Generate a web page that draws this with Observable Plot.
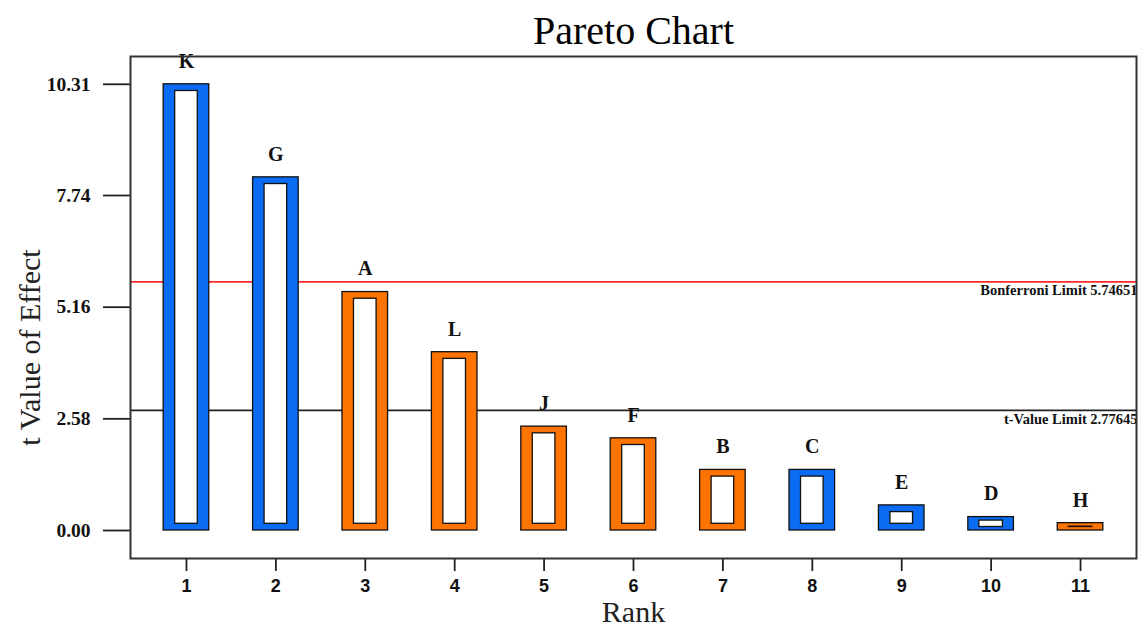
<!DOCTYPE html>
<html><head><meta charset="utf-8">
<script src="https://cdn.jsdelivr.net/npm/d3@7"></script>
<script src="https://cdn.jsdelivr.net/npm/@observablehq/plot@0.6"></script>
<style>
body{margin:0;background:#fff;}
#chart svg{display:block;background:#fff;}
</style>
</head><body><div id="chart"></div>
<script>
// ---- data ----
const ranks   = [1, 2, 3, 4, 5, 6, 7, 8, 9, 10, 11];
const factors = ["K", "G", "A", "L", "J", "F", "B", "C", "E", "D", "H"];
const tValues = [10.31, 8.16, 5.51, 4.12, 2.40, 2.13, 1.40, 1.40, 0.58, 0.31, 0.17];
const effectSign = ["pos", "pos", "neg", "neg", "neg", "neg", "neg", "pos", "pos", "pos", "neg"];
const yTicks  = [0, 2.58, 5.16, 7.74, 10.31];
const limitNames  = ["Bonferroni Limit", "t-Value Limit"];
const limitValues = [5.74651, 2.77645];

// ---- styling ----
const BLUE = "#0a6cf2", ORANGE = "#ff7300";
const SERIF = "'Liberation Serif', 'DejaVu Serif', serif";
const SANS = "'Liberation Sans', 'DejaVu Sans', sans-serif";
const HALF = 0.255;

const data = ranks.map((r, i) => ({rank: r, factor: factors[i], t: tValues[i], sign: effectSign[i]}));
const limits = limitNames.map((n, i) => ({name: n, value: limitValues[i]}));

const chart = Plot.plot({
  width: 1138,
  height: 632,
  marginLeft: 130,
  marginRight: 2,
  marginTop: 56,
  marginBottom: 74,
  x: {type: "linear", domain: [0.374, 11.626]},
  y: {domain: [-0.647, 10.952]},
  marks: [
    Plot.ruleY(limits.filter(d => d.name === "Bonferroni Limit"), {y: "value", stroke: "#ff2b2b", strokeWidth: 1.7}),
    Plot.ruleY(limits.filter(d => d.name === "t-Value Limit"), {y: "value", stroke: "#222", strokeWidth: 1.7}),
    Plot.text(limits, {
      y: "value", frameAnchor: "right", textAnchor: "end", lineAnchor: "top",
      text: d => `${d.name} ${d.value}`, dy: 3, dx: 1,
      fontSize: 14.5, fontWeight: "bold", fontFamily: SERIF, fill: "#111"
    }),
    Plot.rect(data, {
      x1: d => d.rank - HALF, x2: d => d.rank + HALF, y1: 0, y2: "t",
      fill: d => d.sign === "pos" ? BLUE : ORANGE, stroke: "#111", strokeWidth: 1.3
    }),
    Plot.rect(data.filter(d => d.t >= 0.5), {
      x1: d => d.rank - HALF, x2: d => d.rank + HALF, y1: 0, y2: "t",
      insetLeft: 11.5, insetRight: 11.5, insetTop: 6.7, insetBottom: 6.7,
      fill: "white", stroke: "#111", strokeWidth: 1.3
    }),
    Plot.rect(data.filter(d => d.t < 0.5), {
      x1: d => d.rank - HALF, x2: d => d.rank + HALF, y1: 0, y2: "t",
      insetLeft: 11, insetRight: 11, insetTop: 3.5, insetBottom: 3.5,
      fill: "white", stroke: "#111", strokeWidth: 1.3
    }),
    Plot.text(data, {
      x: "rank", y: "t", text: "factor", dy: -23, lineAnchor: "middle",
      fontSize: 20, fontWeight: "bold", fontFamily: SERIF, fill: "#111"
    }),
    Plot.axisY(yTicks, {
      tickSize: 27, tickPadding: 13, tickFormat: d3.format(".2f"), label: null,
      fontSize: 19.5, fontWeight: "bold", fontFamily: SERIF, stroke: "#222", strokeWidth: 1.8, fill: "#111"
    }),
    Plot.axisX(ranks, {
      tickSize: 13, tickPadding: 8, tickFormat: d => String(d), label: null,
      fontSize: 18, fontWeight: "bold", fontFamily: SANS, stroke: "#222", strokeWidth: 1.8, fill: "#111"
    }),
    Plot.frame({stroke: "#333", strokeWidth: 2}),
    Plot.text(["Pareto Chart"], {
      frameAnchor: "top", dy: -25, lineAnchor: "middle",
      fontSize: 40, fontFamily: SERIF, fill: "#000"
    }),
    Plot.text(["Rank"], {
      frameAnchor: "bottom", dy: 54, lineAnchor: "middle",
      fontSize: 30, fontFamily: SERIF, fill: "#222"
    }),
    Plot.text(["t Value of Effect"], {
      frameAnchor: "left", textAnchor: "middle", dx: -100, dy: 40, rotate: -90, lineAnchor: "middle",
      fontSize: 30, fontFamily: SERIF, fill: "#222"
    })
  ]
});
document.getElementById("chart").append(chart);
</script>
</body></html>
